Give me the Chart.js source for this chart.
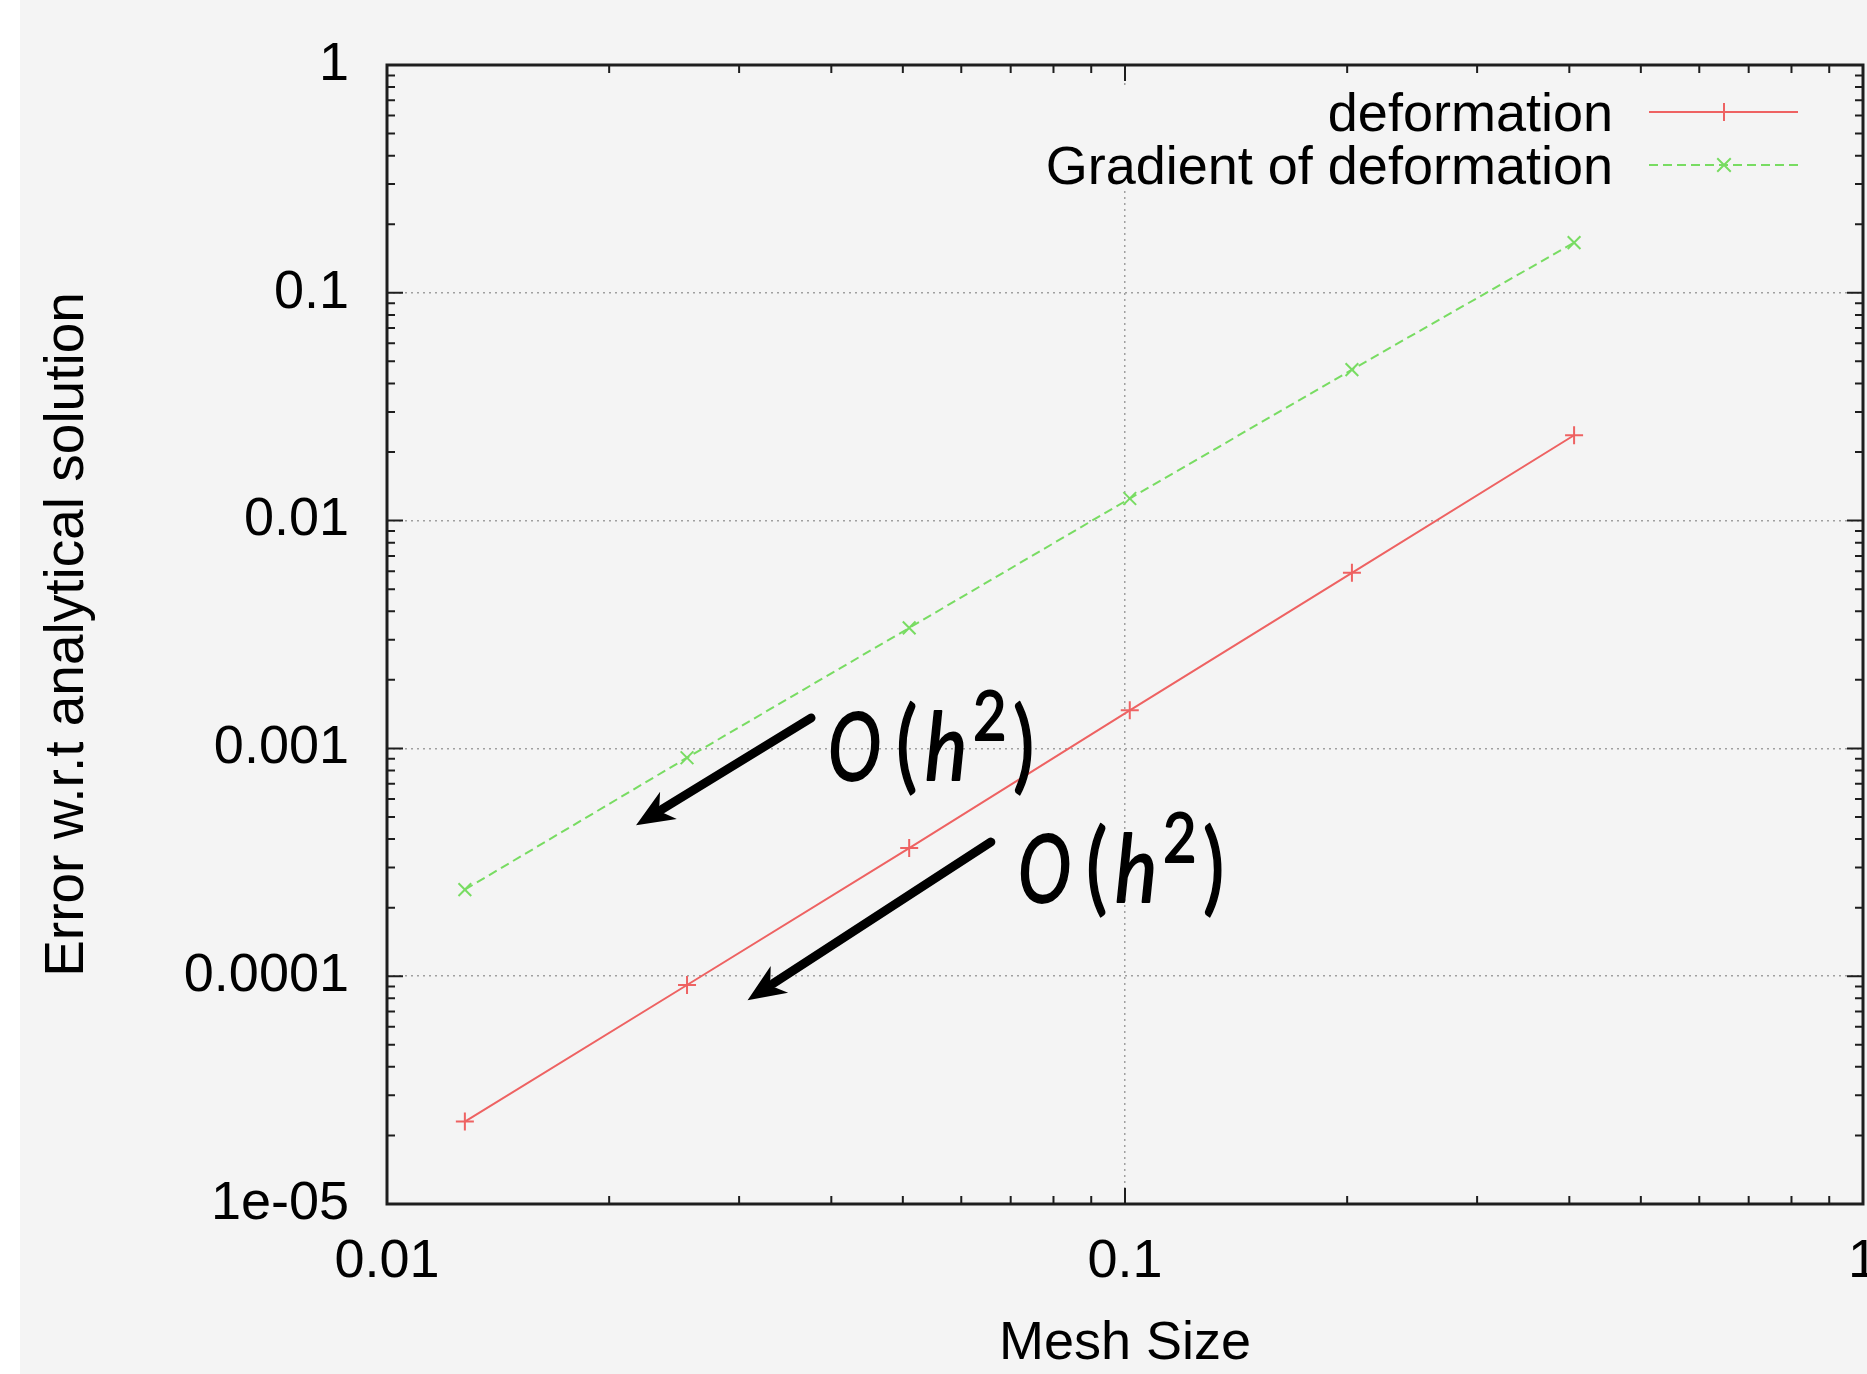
<!DOCTYPE html>
<html>
<head>
<meta charset="utf-8">
<title>Error vs mesh size</title>
<script src="https://cdn.jsdelivr.net/npm/chart.js@4.4.1/dist/chart.umd.min.js"></script>
<style>
  html, body { margin: 0; padding: 0; background: #fff; overflow: hidden; }
  /* the original figure is cropped just right of the plot box, so the
     canvas runs a little past the window edge */
  #wrap { width: 1890px; height: 1374px; position: relative; }
</style>
</head>
<body>
<div id="wrap"><canvas id="chart"></canvas></div>
<script>
// data
const meshSize = [0.01275, 0.0255, 0.051, 0.1015, 0.203, 0.406];
const deformationErr = [2.3e-5, 9.15e-5, 3.65e-4, 1.47e-3, 5.9e-3, 0.0237];
const gradientErr = [2.4e-4, 9.1e-4, 3.38e-3, 0.0125, 0.046, 0.166];
const seriesLabels = ['deformation', 'Gradient of deformation'];

const xTickValues = [0.01, 0.1, 1];
const xTickLabels = ['0.01', '0.1', '1'];
const yTickValues = [1e-5, 1e-4, 1e-3, 0.01, 0.1, 1];
const yTickLabels = ['1e-05', '0.0001', '0.001', '0.01', '0.1', '1'];
const xTitle = 'Mesh Size';
const yTitle = 'Error w.r.t analytical solution';

// convergence-rate notes, in data coordinates (text anchor + arrow tail/tip)
const noteX = [0.0396, 0.0716];
const noteY = [7.26e-4, 2.12e-4];
const arrowFromX = [0.03755, 0.0658];
const arrowFromY = [1.36e-3, 3.88e-4];
const arrowToX = [0.02175, 0.0308];
const arrowToY = [4.6e-4, 7.85e-5];

const RED = '#ee6262';
const GREEN = '#78dc62';
const FONT = '"Liberation Sans", Arial, Helvetica, sans-serif';

Chart.defaults.font.family = FONT;
Chart.defaults.color = '#000';

// pieces of "O(h^2)": glyph, offset, size, italic, horizontal squeeze, raise
const rateParts = [
    { t: 'O', dx: 0, size: 94, italic: true, sx: 0.76, dy: 0 },
    { t: '(', dx: 68, size: 100, italic: false, sx: 0.8, dy: 0 },
    { t: 'h', dx: 97, size: 94, italic: true, sx: 0.85, dy: 0 },
    { t: '2', dx: 145, size: 68, italic: false, sx: 0.85, dy: -40 },
    { t: ')', dx: 185, size: 100, italic: false, sx: 0.8, dy: 0 }
];

function logTicks(decades) {
    const out = [];
    decades.forEach((d, i) => {
        out.push({ v: d, major: true });
        if (i < decades.length - 1) {
            for (let k = 2; k <= 9; k++) out.push({ v: k * d, major: false });
        }
    });
    return out;
}

function drawMarker(ctx, style, x, y, r) {
    ctx.beginPath();
    if (style === 'cross') {
        ctx.moveTo(x - r, y); ctx.lineTo(x + r, y);
        ctx.moveTo(x, y - r); ctx.lineTo(x, y + r);
    } else {
        const d = r * 0.75;
        ctx.moveTo(x - d, y - d); ctx.lineTo(x + d, y + d);
        ctx.moveTo(x - d, y + d); ctx.lineTo(x + d, y - d);
    }
    ctx.stroke();
}

function drawArrow(ctx, x0, y0, x1, y1) {
    const ang = Math.atan2(y1 - y0, x1 - x0);
    const c = Math.cos(ang), s = Math.sin(ang);
    const headLen = 38, headW = 16, notch = 27;
    const bx = x1 - headLen * c, by = y1 - headLen * s;
    const nx = x1 - notch * c, ny = y1 - notch * s;
    ctx.lineWidth = 9;
    ctx.lineCap = 'round';
    ctx.beginPath();
    ctx.moveTo(x0, y0);
    ctx.lineTo(nx - 4 * c, ny - 4 * s);
    ctx.stroke();
    ctx.beginPath();
    ctx.moveTo(x1, y1);
    ctx.lineTo(bx + headW * s, by - headW * c);
    ctx.lineTo(nx, ny);
    ctx.lineTo(bx - headW * s, by + headW * c);
    ctx.closePath();
    ctx.fill();
}

const gnuplotFrame = {
    id: 'gnuplotFrame',
    beforeDraw(chart) {
        const { ctx, width, height } = chart;
        ctx.save();
        ctx.fillStyle = '#ffffff';
        ctx.fillRect(0, 0, width, height);
        ctx.fillStyle = '#f4f4f4';
        ctx.fillRect(20, 0, width - 20, height);
        ctx.restore();
    },
    afterDatasetsDraw(chart) {
        const { ctx, chartArea: a, scales: { x, y } } = chart;
        ctx.save();

        // tick marks pointing inward, mirrored on all sides
        ctx.strokeStyle = '#1e1e1e';
        ctx.lineWidth = 2;
        ctx.beginPath();
        logTicks(xTickValues).forEach(t => {
            const px = x.getPixelForValue(t.v);
            const len = t.major ? 16 : 8;
            ctx.moveTo(px, a.bottom); ctx.lineTo(px, a.bottom - len);
            ctx.moveTo(px, a.top); ctx.lineTo(px, a.top + len);
        });
        logTicks(yTickValues).forEach(t => {
            const py = y.getPixelForValue(t.v);
            const len = t.major ? 16 : 8;
            ctx.moveTo(a.left, py); ctx.lineTo(a.left + len, py);
            ctx.moveTo(a.right, py); ctx.lineTo(a.right - len, py);
        });
        ctx.stroke();

        // box
        ctx.lineWidth = 3;
        ctx.strokeRect(a.left, a.top, a.right - a.left, a.bottom - a.top);

        // key (right aligned text, sample line to the right)
        const keyRight = a.right - 250;
        ctx.fillStyle = '#f4f4f4';
        ctx.fillRect(keyRight - 580, a.top + 22, 780, 104);
        ctx.font = '54px ' + FONT;
        ctx.textAlign = 'right';
        ctx.textBaseline = 'alphabetic';
        chart.data.datasets.forEach((ds, i) => {
            const base = a.top + 66 + i * 53;
            const ly = base - 19;
            ctx.fillStyle = '#000';
            ctx.fillText(ds.label, keyRight, base);
            ctx.strokeStyle = ds.borderColor;
            ctx.lineWidth = 2;
            ctx.setLineDash(ds.borderDash || []);
            ctx.beginPath();
            ctx.moveTo(keyRight + 36, ly);
            ctx.lineTo(keyRight + 185, ly);
            ctx.stroke();
            ctx.setLineDash([]);
            drawMarker(ctx, ds.pointStyle, keyRight + 111, ly, 9);
        });

        // O(h^2) notes with arrows
        ctx.fillStyle = '#000';
        ctx.strokeStyle = '#000';
        noteX.forEach((nx, i) => {
            drawArrow(ctx,
                x.getPixelForValue(arrowFromX[i]), y.getPixelForValue(arrowFromY[i]),
                x.getPixelForValue(arrowToX[i]), y.getPixelForValue(arrowToY[i]));
            const tx = x.getPixelForValue(nx);
            const ty = y.getPixelForValue(noteY[i]);
            ctx.textAlign = 'left';
            ctx.textBaseline = 'alphabetic';
            ctx.lineJoin = 'round';
            rateParts.forEach(p => {
                ctx.save();
                ctx.translate(tx + p.dx, ty + p.dy);
                ctx.scale(p.sx, 1);
                ctx.font = (p.italic ? 'italic ' : '') + p.size + 'px Lato, "Open Sans", sans-serif';
                ctx.fillText(p.t, 0, 0);
                ctx.lineWidth = 1.8;
                ctx.strokeText(p.t, 0, 0);
                ctx.restore();
            });
        });

        ctx.restore();
    }
};

const ctx = document.getElementById('chart').getContext('2d');
const myChart = new Chart(ctx, {
    type: 'line',
    data: {
        datasets: [
            {
                label: seriesLabels[0],
                data: meshSize.map((v, i) => ({ x: v, y: deformationErr[i] })),
                borderColor: RED,
                backgroundColor: RED,
                borderWidth: 2,
                pointStyle: 'cross',
                pointRadius: 9,
                pointBorderWidth: 2,
                pointBorderColor: RED,
                fill: false,
                tension: 0
            },
            {
                label: seriesLabels[1],
                data: meshSize.map((v, i) => ({ x: v, y: gradientErr[i] })),
                borderColor: GREEN,
                backgroundColor: GREEN,
                borderWidth: 2,
                borderDash: [9, 5],
                pointStyle: 'crossRot',
                pointRadius: 9,
                pointBorderWidth: 2,
                pointBorderColor: GREEN,
                fill: false,
                tension: 0
            }
        ]
    },
    options: {
        animation: false,
        responsive: true,
        maintainAspectRatio: false,
        layout: { padding: { top: 65, right: 27, bottom: 0, left: 0 } },
        plugins: {
            legend: { display: false },
            tooltip: { enabled: false }
        },
        scales: {
            x: {
                type: 'logarithmic',
                position: 'bottom',
                min: 0.01,
                max: 1,
                afterBuildTicks: s => { s.ticks = xTickValues.map(v => ({ value: v })); },
                afterFit: s => { s.height = 170; s.paddingLeft = 0; s.paddingRight = 0; },
                ticks: {
                    callback: (v, i) => xTickLabels[i],
                    autoSkip: false,
                    maxRotation: 0,
                    padding: 0,
                    font: { size: 54 },
                    color: '#000'
                },
                grid: {
                    drawTicks: true,
                    tickLength: 26,
                    tickColor: 'rgba(0,0,0,0)',
                    lineWidth: 1.5,
                    color: c => (c.tick && c.tick.value > 0.011 && c.tick.value < 0.9) ? '#a0a0a0' : 'rgba(0,0,0,0)'
                },
                border: { display: false, dash: [2, 4] },
                title: {
                    display: true,
                    text: xTitle,
                    font: { size: 54, lineHeight: 1.1 },
                    color: '#000',
                    padding: 0
                }
            },
            y: {
                type: 'logarithmic',
                position: 'left',
                min: 1e-5,
                max: 1,
                afterBuildTicks: s => { s.ticks = yTickValues.map(v => ({ value: v })); },
                afterFit: s => { s.width = 387; s.paddingTop = 0; s.paddingBottom = 0; },
                ticks: {
                    callback: (v, i) => yTickLabels[i],
                    autoSkip: false,
                    padding: 38,
                    font: { size: 54 },
                    color: '#000'
                },
                grid: {
                    drawTicks: false,
                    lineWidth: 1.5,
                    color: c => (c.tick && c.tick.value > 1.1e-5 && c.tick.value < 0.9) ? '#a0a0a0' : 'rgba(0,0,0,0)'
                },
                border: { display: false, dash: [2, 4] },
                title: {
                    display: true,
                    text: yTitle,
                    font: { size: 55 },
                    color: '#000',
                    padding: { top: 35, bottom: 0 }
                }
            }
        }
    },
    plugins: [gnuplotFrame]
});
</script>
</body>
</html>
